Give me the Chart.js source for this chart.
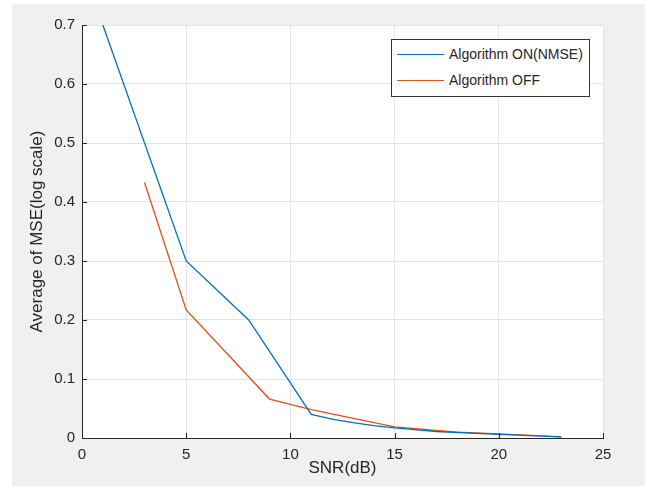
<!DOCTYPE html>
<html>
<head>
<meta charset="utf-8">
<script src="https://cdn.jsdelivr.net/npm/chart.js@4/dist/chart.umd.min.js"></script>
<style>
  html, body { margin: 0; padding: 0; background: #ffffff; }
  #fig { position: absolute; left: 12px; top: 4px; width: 633px; height: 482px; background: #f0f0f0; }
  #legend {
    position: absolute; left: 391px; top: 39px; width: 197px; height: 56px;
    background: #ffffff; border: 1px solid #333333;
    font-family: "Liberation Sans", Arial, sans-serif; font-size: 14px; color: #262626;
  }
  .row { position: absolute; left: 5px; height: 16px; }
  .row span.ln { position: absolute; left: 0; top: 8px; width: 47px; height: 0; border-top: 1.3px solid; }
  .row span.tx { position: absolute; left: 52px; top: 0; white-space: nowrap; line-height: 16px; }
</style>
</head>
<body>
<div id="fig"><canvas id="chart" width="633" height="482"></canvas></div>
<div id="legend"></div>
<script>
// data
var seriesNames = ['Algorithm ON(NMSE)', 'Algorithm OFF'];
var seriesColors = ['#0072BD', '#D95319'];

var snrOn = [1, 5, 8, 11, 12, 13, 14, 15, 17, 20, 23];
var mseOn = [0.70, 0.30, 0.20, 0.040, 0.032, 0.026, 0.021, 0.017, 0.011, 0.006, 0.002];

var snrOff = [3, 5, 9, 11, 15, 18, 20, 23];
var mseOff = [0.433, 0.217, 0.066, 0.048, 0.019, 0.010, 0.007, 0.002];

var xTicks = [0, 5, 10, 15, 20, 25];
var yTicks = [0, 0.1, 0.2, 0.3, 0.4, 0.5, 0.6, 0.7];

function toPoints(xs, ys) {
    var pts = [];
    for (var i = 0; i < xs.length; i++) pts.push({x: xs[i], y: ys[i]});
    return pts;
}

// white plot background
var plotBg = {
    id: 'plotBg',
    beforeDraw: function (chart) {
        var a = chart.chartArea, ctx = chart.ctx;
        ctx.save();
        ctx.fillStyle = '#ffffff';
        ctx.fillRect(a.left, a.top, a.right - a.left, a.bottom - a.top);
        ctx.restore();
    }
};

// MATLAB style inward ticks
var inTicks = {
    id: 'inTicks',
    afterDraw: function (chart) {
        var a = chart.chartArea, ctx = chart.ctx;
        var xs = chart.scales.x, ys = chart.scales.y;
        ctx.save();
        ctx.strokeStyle = '#262626';
        ctx.lineWidth = 1;
        ctx.beginPath();
        xTicks.forEach(function (v) {
            var px = Math.round(xs.getPixelForValue(v)) + 0.5;
            ctx.moveTo(px, a.bottom);
            ctx.lineTo(px, a.bottom - 5);
        });
        yTicks.forEach(function (v) {
            var py = Math.round(ys.getPixelForValue(v)) + 0.5;
            ctx.moveTo(a.left, py);
            ctx.lineTo(a.left + 5, py);
        });
        ctx.stroke();
        ctx.restore();
    }
};

Chart.defaults.font.family = '"Liberation Sans", Arial, sans-serif';
Chart.defaults.color = '#262626';

var ctx = document.getElementById('chart').getContext('2d');
new Chart(ctx, {
    type: 'line',
    data: {
        datasets: [
            {label: seriesNames[0], data: toPoints(snrOn, mseOn), borderColor: seriesColors[0], borderWidth: 1.3, pointRadius: 0, tension: 0, fill: false},
            {label: seriesNames[1], data: toPoints(snrOff, mseOff), borderColor: seriesColors[1], borderWidth: 1.3, pointRadius: 0, tension: 0, fill: false}
        ]
    },
    options: {
        responsive: false,
        animation: false,
        events: [],
        layout: {padding: {left: 0, right: 42, top: 21, bottom: 0}},
        plugins: {legend: {display: false}, tooltip: {enabled: false}},
        scales: {
            x: {
                type: 'linear', min: 0, max: 25,
                afterBuildTicks: function (s) { s.ticks = xTicks.map(function (v) { return {value: v}; }); },
                afterFit: function (s) { s.height = 48; },
                ticks: {font: {size: 15}, padding: 8, maxRotation: 0, color: '#262626'},
                grid: {color: '#e3e3e3', drawTicks: false},
                border: {display: true, color: '#262626', width: 1},
                title: {display: true, text: 'SNR(dB)', font: {size: 17}, color: '#262626', padding: {top: 0, bottom: 7}}
            },
            y: {
                type: 'linear', min: 0, max: 0.7,
                afterBuildTicks: function (s) { s.ticks = yTicks.map(function (v) { return {value: v}; }); },
                afterFit: function (s) { s.width = 70; },
                ticks: {font: {size: 15}, padding: 7, color: '#262626', callback: function (v) { return v === 0 ? '0' : v.toFixed(1); }},
                grid: {color: '#e3e3e3', drawTicks: false},
                border: {display: true, color: '#262626', width: 1},
                title: {display: true, text: 'Average of MSE(log scale)', font: {size: 17}, color: '#262626', padding: {top: 15, bottom: 0}}
            }
        }
    },
    plugins: [plotBg, inTicks]
});

// legend box
var lg = document.getElementById('legend');
seriesNames.forEach(function (name, i) {
    var row = document.createElement('div');
    row.className = 'row';
    row.style.top = (6 + i * 26) + 'px';
    row.innerHTML = '<span class="ln" style="border-color:' + seriesColors[i] + '"></span><span class="tx">' + name + '</span>';
    lg.appendChild(row);
});
</script>
</body>
</html>
